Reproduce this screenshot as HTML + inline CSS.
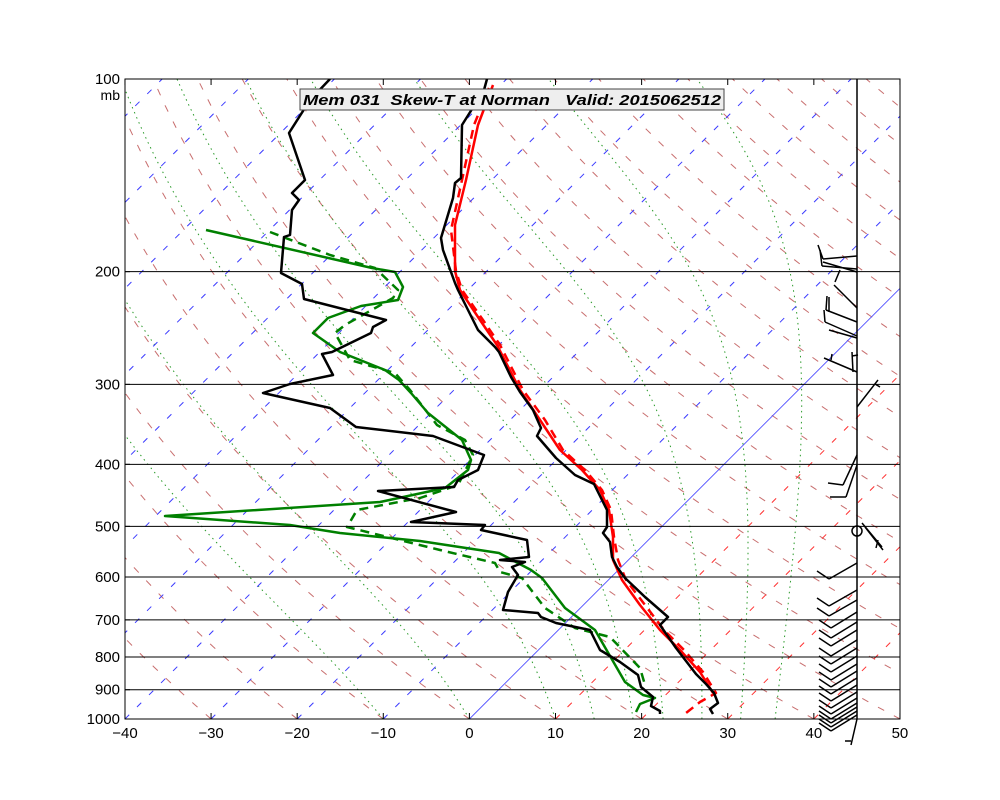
<!DOCTYPE html>
<html><head><meta charset="utf-8"><style>
html,body{margin:0;padding:0;background:#fff;}
svg{display:block;font-family:"Liberation Sans",sans-serif;}
</style></head><body>
<svg id="s" width="1000" height="800" viewBox="0 0 1000 800" xmlns="http://www.w3.org/2000/svg">
<defs><clipPath id="c"><rect x="125" y="79" width="775" height="640"/></clipPath></defs>
<rect width="1000" height="800" fill="#fff"/>
<g id="grid" clip-path="url(#c)"></g>
<g id="data" clip-path="url(#c)" fill="none" stroke-linejoin="round">
<polyline stroke="#008000" stroke-width="2.5" stroke-dasharray="9,6" points="270,232 330,255 375,268 398,290 393,298 345,325 335,333 350,360 395,373 410,390 437,425 465,440 473,455 458,485 420,498 388,504 357,510 347,527 440,550 495,563 500,572 522,578 545,608 575,628 610,637 640,668 645,685"/>
<polyline stroke="#008000" stroke-width="2.5" points="206,230 372,268 395,272 403,287 398,300 361,306 328,318 313,333 340,352 385,370 399,380 411,393 428,413 462,440 471,460 468,470 445,488 380,502 165,516 290,525 340,533 420,541 499,553 531,570 542,578 565,608 595,630 625,682 643,695 655,698 640,704 636,712"/>
<polyline stroke="#000" stroke-width="2.5" points="330,79 310,100 289,133 305,180 292,193 299,200 292,210 290,235 284,237 281,273 302,284 304,299 386,320 373,327 371,333 332,352 322,354 333,375 290,384 263,393 330,408 356,427 433,436 484,455 478,470 458,480 454,487 378,491 456,512 411,522 485,525 481,530 527,540 529,557 500,560 525,562 512,567 518,575 508,592 503,610 538,613 541,617 556,623 590,630 600,650 620,662 638,675 641,687 653,697 651,706 660,711 660,714"/>
<polyline stroke="#ff0000" stroke-width="2.5" stroke-dasharray="9,6" points="489,88 474,125 462,180 451,230 456,271 462,290 483,320 500,345 523,390 545,420 563,450 585,470 602,490 611,510 614,537 618,560 626,580 645,605 664,630 684,650 703,672 716,693 700,702 686,713"/>
<polyline stroke="#ff0000" stroke-width="2.5" points="493,85 478,125 466,180 455,225 455,271 460,290 480,320 497,345 520,390 540,420 560,450 582,470 600,490 609,510 613,537 613,560 622,580 640,605 660,630 680,650 700,672 713,693"/>
<polyline stroke="#000" stroke-width="2.5" points="487,79 484,90 462,125 461,178 455,183 453,198 441,238 443,250 455,283 458,290 478,330 495,347 499,352 511,377 520,392 533,410 541,428 537,436 556,458 575,475 594,484 602,500 607,510 607,527 603,533 610,542 612,557 617,567 625,578 645,597 668,617 660,625 676,648 696,674 706,684 714,693 718,703 710,709 713,714"/>
</g>
<g id="hl" stroke="#000" stroke-width="1"></g>
<g id="barbs" stroke="#000" stroke-width="1.5" fill="none"></g>
<circle cx="857" cy="531" r="5" fill="none" stroke="#000" stroke-width="1.5"/>
<line x1="857" y1="79" x2="857" y2="719" stroke="#000" stroke-width="1.5"/>
<rect x="125" y="79" width="775" height="640" fill="none" stroke="#000" stroke-width="1"/>
<g id="ticks" stroke="#000" stroke-width="1"></g>
<g id="lab" font-size="15" fill="#000"></g>
<rect x="300" y="89" width="424" height="21" fill="#eeeeee" stroke="#444" stroke-width="1"/>
<text x="303" y="105" font-size="15" font-weight="bold" font-style="italic" textLength="418" lengthAdjust="spacingAndGlyphs" style="white-space:pre" xml:space="preserve">Mem 031  Skew-T at Norman   Valid: 2015062512</text>
</svg>
<script>
(function(){
var NS="http://www.w3.org/2000/svg";
function Y(p){return 79+640*Math.log10(p/100);}
function X(T,p){return 469.4+8.611*T+(719-Y(p));}
function el(par,tag,a){var e=document.createElementNS(NS,tag);for(var k in a)e.setAttribute(k,a[k]);document.getElementById(par).appendChild(e);return e;}
function pl(pts,a){a.points=pts.map(function(q){return q[0].toFixed(1)+","+q[1].toFixed(1);}).join(" ");a.fill="none";el("grid","polyline",a);}
for(var th=-40;th<=220;th+=10){var pts=[];for(var p=1000;p>=100;p-=10){var T=(th+273.15)*Math.pow(p/1000,0.286)-273.15;pts.push([X(T,p),Y(p)]);}
pl(pts,{stroke:"#b03030","stroke-opacity":"0.7","stroke-width":"1","stroke-dasharray":"7,11"});}
var starts=[-10,0,10,14.5,19,22.5,27,31.5,35.5];
starts.forEach(function(t0){var T=t0+273.15,pts=[],p=1000;pts.push([X(t0,p),Y(p)]);
while(p>100){var Tc=T-273.15;var es=6.112*Math.exp(17.67*Tc/(Tc+243.5));var rs=0.622*es/(p-es);
var d=(287*T+2.5e6*rs)/(p*(1004+2.5e6*2.5e6*rs*0.622/(287*T*T)));var dp=-5;T+=d*dp;p+=dp;pts.push([X(T-273.15,p),Y(p)]);}
pl(pts,{stroke:"#2a9a2a","stroke-width":"1","stroke-dasharray":"1.5,4"});});
for(var t=-110;t<=50;t+=10){var a={x1:X(t,1000),y1:719,x2:X(t,100),y2:79,"stroke-width":"1"};
if(t<0){a.stroke="#3a3aff";a["stroke-dasharray"]="6,11";}else if(t==0){a.stroke="#5050ff";a["stroke-width"]="0.9";}else{a.stroke="#ff3030";a["stroke-dasharray"]="6,11";}
el("grid","line",a);}
[200,300,400,500,600,700,800,900].forEach(function(p){el("hl","line",{x1:125,y1:Y(p),x2:900,y2:Y(p)});});
[100,200,300,400,500,600,700,800,900,1000].forEach(function(p){var t=el("lab","text",{x:120,y:Y(p)+5,"text-anchor":"end"});t.textContent=p;
el("ticks","line",{x1:125,y1:Y(p),x2:130,y2:Y(p)});});
var mb=el("lab","text",{x:120,y:100,"text-anchor":"end","font-size":"14"});mb.textContent="mb";
for(var t=-40;t<=50;t+=10){var x=469.4+8.611*t;el("ticks","line",{x1:x,y1:719,x2:x,y2:713});el("ticks","line",{x1:x,y1:79,x2:x,y2:85});
var tx=el("lab","text",{x:x,y:738,"text-anchor":"middle"});tx.textContent=(t<0?"\u2212":"")+Math.abs(t);}
var segs=[[857,256,823,259],[823,259,818,245],[857,269,822,266],[822,266,820,250],[857,272,823,262],
[857,308,834,285],[835,282,840,270],[857,322,826,310],[826,310,827,296],[829,312,829,297],
[857,336,825,322],[825,322,824,310],[857,338,829,330],
[857,372,824,358],[831,360,832,354],[853,372,852,352],[852,356,858,355],
[857,407,878,380],[875,384,880,387],
[857,455,843,485],[843,485,828,483],[857,465,846,497],[846,497,830,497],
[862,523,882,547],[865,527,883,550],[878,540,876,548],
[851,745,857,719],[845,741,851,741]];
[563,590,600,612,622,630,640,648,656,664,671,678,685,692,698,703,707,711,715].forEach(function(y,i){
var dx=i<3?28:26;segs.push([857,y,857-dx,y+16]);segs.push([857-dx,y+16,857-dx-12,y+8]);});
segs.forEach(function(s){el("barbs","line",{x1:s[0],y1:s[1],x2:s[2],y2:s[3]});});
})();
</script>
</body></html>
